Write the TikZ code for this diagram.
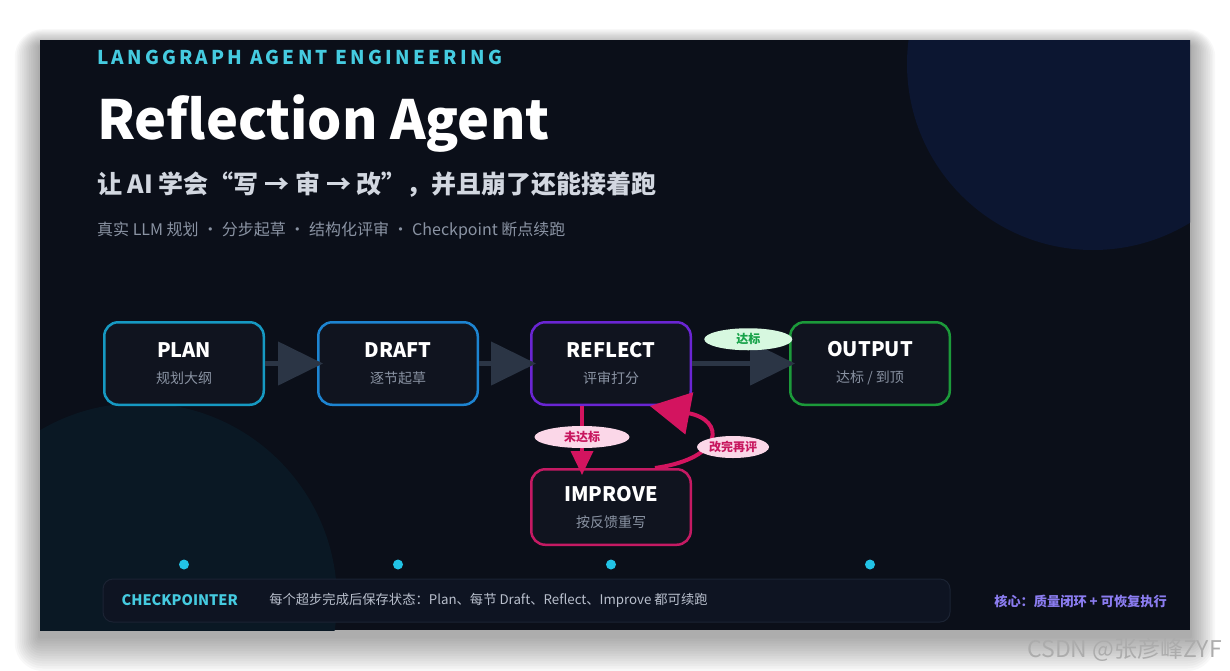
\documentclass[tikz,border=0pt]{standalone}
\usepackage{fontspec}
\setmainfont{Noto Sans CJK SC}
\usetikzlibrary{positioning,shapes.geometric,arrows.meta}

\definecolor{panelbg}{HTML}{0B0F19}
\definecolor{stagebg}{HTML}{10141F}
\definecolor{glowblue}{HTML}{0C1631}
\definecolor{glowteal}{HTML}{0A1824}
\definecolor{kickcyan}{HTML}{45CBE0}
\definecolor{headgray}{HTML}{D2D7E0}
\definecolor{subgray}{HTML}{8A93A3}
\definecolor{notegray}{HTML}{B8BFCC}
\definecolor{plancol}{HTML}{1699C2}
\definecolor{draftcol}{HTML}{1D84D1}
\definecolor{reflcol}{HTML}{6A25D3}
\definecolor{outcol}{HTML}{1C9A3A}
\definecolor{imprcol}{HTML}{C51A63}
\definecolor{flowgray}{HTML}{2B3545}
\definecolor{loopred}{HTML}{D3145F}
\definecolor{pinkfill}{HTML}{FBD7E8}
\definecolor{pinktext}{HTML}{C8175F}
\definecolor{greenfill}{HTML}{D7F8E0}
\definecolor{greentext}{HTML}{17A249}
\definecolor{dotcyan}{HTML}{22C3E6}
\definecolor{barfill}{HTML}{0E1422}
\definecolor{barline}{HTML}{1B2333}
\definecolor{corepurple}{HTML}{8B7CF0}

\newcommand{\fs}[1]{\fontsize{#1}{#1}\selectfont}
\newcommand{\stagetext}[2]{{\bfseries\fs{20}\color{white}#1}\\[12pt]{\color{subgray}#2}}

\tikzset{
  stage/.style={draw=#1, line width=2.5pt, rounded corners=14pt, fill=stagebg,
    minimum width=159.5pt, minimum height=82.5pt, align=center, inner sep=0pt, font=\fs{14}},
  tag/.style={ellipse, fill=#1, inner sep=0pt, minimum height=22pt, font=\bfseries\fs{12}},
  flow/.style={draw=flowgray, line width=4.5pt, -{Triangle[length=45pt,width=43pt]}, shorten >=-6pt},
  back/.style={draw=loopred, line width=3.5pt},
  plain/.style={inner sep=0pt, anchor=base west},
}

\begin{document}
\begin{tikzpicture}[x=1pt,y=-1pt]
  \useasboundingbox (0,0) rectangle (1230,670);
  % panel + shadow
  \foreach \s in {1,...,14}
    \fill[black, opacity=0.028, rounded corners=2*\s] (40-1.8*\s,40-1.2*\s+6) rectangle (1190+1.8*\s,630+2.5*\s+6);
  \fill[panelbg] (40,40) rectangle (1190,630);
  \begin{scope}
    \clip (40,40) rectangle (1190,630);
    \fill[glowblue] (1093,64) circle (186);
    \fill[glowteal] (140,600) circle (197);
  \end{scope}

  % Heading
  \node[plain] (kicker) at (97,64) {\bfseries\fs{19}\addfontfeature{LetterSpace=17}\color{kickcyan}LANGGRAPH AGENT ENGINEERING};
  \node[plain] (title) at (97,139) {\bfseries\fs{54}\color{white}Reflection Agent};
  \node[plain] (sub) at (97,193) {\bfseries\fs{25}\color{headgray}让 AI 学会“写 → 审 → 改”，并且崩了还能接着跑};
  \node[plain] (feat) at (97,235) {\fs{16}\color{subgray}真实 LLM 规划 · 分步起草 · 结构化评审 · Checkpoint 断点续跑};

  % Nodes
  \node[stage=plancol] (plan) at (184,363.5) {\stagetext{PLAN}{规划大纲}}; %
  \node[stage=draftcol, right=52pt of plan] (draft) {\stagetext{DRAFT}{逐节起草}}; %
  \node[stage=reflcol, right=51pt of draft] (reflect) {\stagetext{REFLECT}{评审打分}}; %
  \node[stage=outcol, right=97pt of reflect] (output) {\stagetext{OUTPUT}{达标 / 到顶}}; %
  \node[stage=imprcol, minimum height=75.5pt, below=62pt of reflect] (improve) {\stagetext{IMPROVE}{按反馈重写}}; %

  % Edges
  \draw[flow] (plan) -- (draft); %
  \draw[flow] (draft) -- (reflect); %
  \draw[flow] (reflect) -- (output)
    node[tag=greenfill, pos=.58, above=11pt, minimum width=88pt, text=greentext] (pass) {达标}; %
  \draw[back, -{Triangle[length=24pt,width=22pt]}, shorten >=-7pt]
    ([xshift=-29pt]reflect.south) -- ([xshift=-29pt]improve.north)
    node[tag=pinkfill, pos=.5, minimum width=95pt, text=pinktext] (fail) {未达标}; %
  \draw[back, line width=4pt, -{Triangle[length=40pt,width=42pt]}]
    ([xshift=44pt]improve.north) .. controls (725,458) and (725,420) .. ([xshift=39pt]reflect.south); %
  \node[tag=pinkfill, minimum width=72pt, text=pinktext] (again) at (733,447) {改完再评}; %

  % Checkpointer bar
  \node[draw=barline, line width=1pt, fill=barfill, rounded corners=10pt,
    minimum width=847pt, minimum height=43pt] (bar) at (526.5,600.5) {}; %
  \foreach \n in {plan,draft,reflect,output}
    \fill[dotcyan] (\n.center |- bar.north) ++(0,-14) circle (5);
  \node[anchor=west, inner sep=0pt] (cpname) at ([xshift=19pt]bar.west) {\bfseries\fs{14.5}\color{kickcyan}CHECKPOINTER}; %
  \node[right=31pt of cpname, inner sep=0pt] (cpnote) {\fs{13.3}\color{notegray}每个超步完成后保存状态：Plan、每节 Draft、Reflect、Improve 都可续跑}; %
  \node[anchor=east, inner sep=0pt] (core) at (1167,601) {\bfseries\fs{13.2}\color{corepurple}核心：质量闭环 + 可恢复执行}; %

  % watermark
  \node[anchor=east, inner sep=0pt] (mark) at (1222,650) {\fs{23}\color{gray!65}CSDN @张彦峰ZYF}; %
\end{tikzpicture}
\end{document}
